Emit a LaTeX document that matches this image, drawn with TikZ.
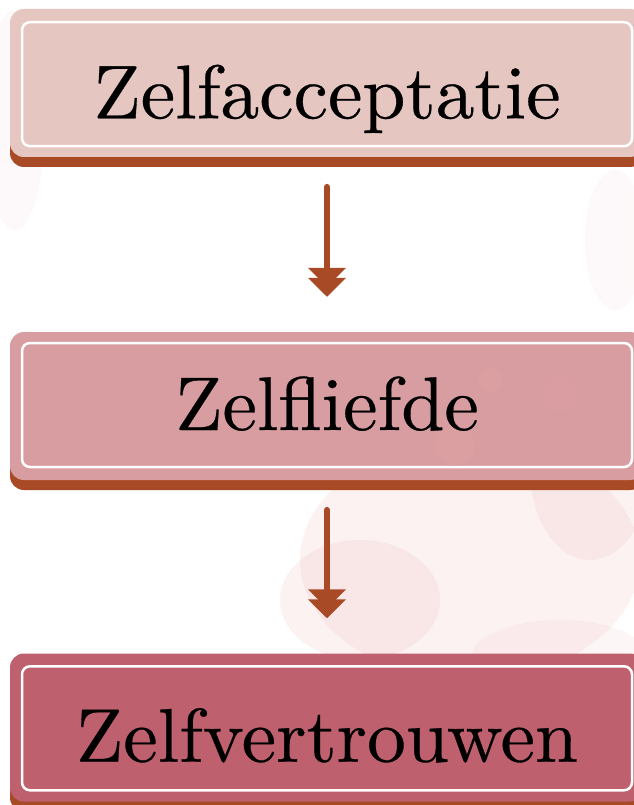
\documentclass[tikz,border=0pt]{standalone}
\usepackage{fontspec}
\usetikzlibrary{arrows.meta}
\newfontfamily\boxfont{lmroman10-regular.otf}[FakeStretch=1.02,FakeBold=0.4]
\definecolor{shadowc}{HTML}{A94A26}
\definecolor{fillA}{HTML}{E5C6C1}
\definecolor{fillB}{HTML}{D89DA0}
\definecolor{fillC}{HTML}{BE606D}
\definecolor{blobc}{HTML}{EBA9AE}
\tikzset{
  outerbox/.style={rounded corners=14pt, minimum width=634pt, minimum height=148pt, inner sep=0pt, draw=none},
  innerbox/.style={rounded corners=8pt, minimum width=610pt, minimum height=124pt, inner sep=0pt, draw=white, line width=2.5pt},
  boxtext/.style={anchor=base, inner sep=0pt, font=\boxfont\fontsize{76}{76}\selectfont, text=black},
  flowarrow/.style={draw=shadowc, line width=6.7pt, line cap=round,
    -{Triangle[length=19pt,width=37pt,sep=-9pt]Triangle[length=19pt,width=37pt]}},
  blob/.style={fill=blobc, opacity=0.15}
}
\begin{document}
\begin{tikzpicture}[x=1pt,y=-1pt]
\useasboundingbox (0,0) rectangle (633,805);
\fill[white] (0,0) rectangle (633,805);
% watercolour background
\fill[blob] (470,560) ellipse [x radius=170, y radius=120];
\fill[blob] (360,600) ellipse [x radius=80, y radius=60];
\fill[blob] (590,470) ellipse [x radius=60, y radius=90];
\fill[blob, opacity=0.07] (15,120) ellipse [x radius=30, y radius=110];
\fill[blob, opacity=0.07] (615,240) ellipse [x radius=30, y radius=70];
\fill[blob, opacity=0.1] (560,660) ellipse [x radius=90, y radius=40];
% box 1
\node[outerbox, fill=shadowc] (s1) at (327,93) {};
\node[outerbox, fill=fillA] (b1) at (327,83) {};
\node[innerbox] (i1) at (327,84.2) {};
\node[boxtext] (t1) at (327,118.3) {Zelfacceptatie};
% box 2
\node[outerbox, fill=shadowc] (s2) at (327,416) {};
\node[outerbox, fill=fillB] (b2) at (327,406) {};
\node[innerbox] (i2) at (327,405) {};
\fill[blob, opacity=0.2] (490,380) circle (12);
\fill[blob, opacity=0.2] (455,445) circle (20);
\fill[blob, opacity=0.15] (560,395) circle (18);
\node[boxtext] (t2) at (327,430) {Zelfliefde};
% box 3
\node[outerbox, fill=shadowc] (s3) at (327,737.5) {};
\node[outerbox, fill=fillC] (b3) at (327,727.5) {};
\node[innerbox] (i3) at (327,728.3) {};
\node[boxtext] (t3) at (327,761.7) {Zelfvertrouwen};
% arrows
\draw[flowarrow] ([yshift=-20pt]s1.south) -- ([yshift=35pt]b2.north);
\draw[flowarrow] ([yshift=-20pt]s2.south) -- ([yshift=35pt]b3.north);
\end{tikzpicture}
\end{document}
